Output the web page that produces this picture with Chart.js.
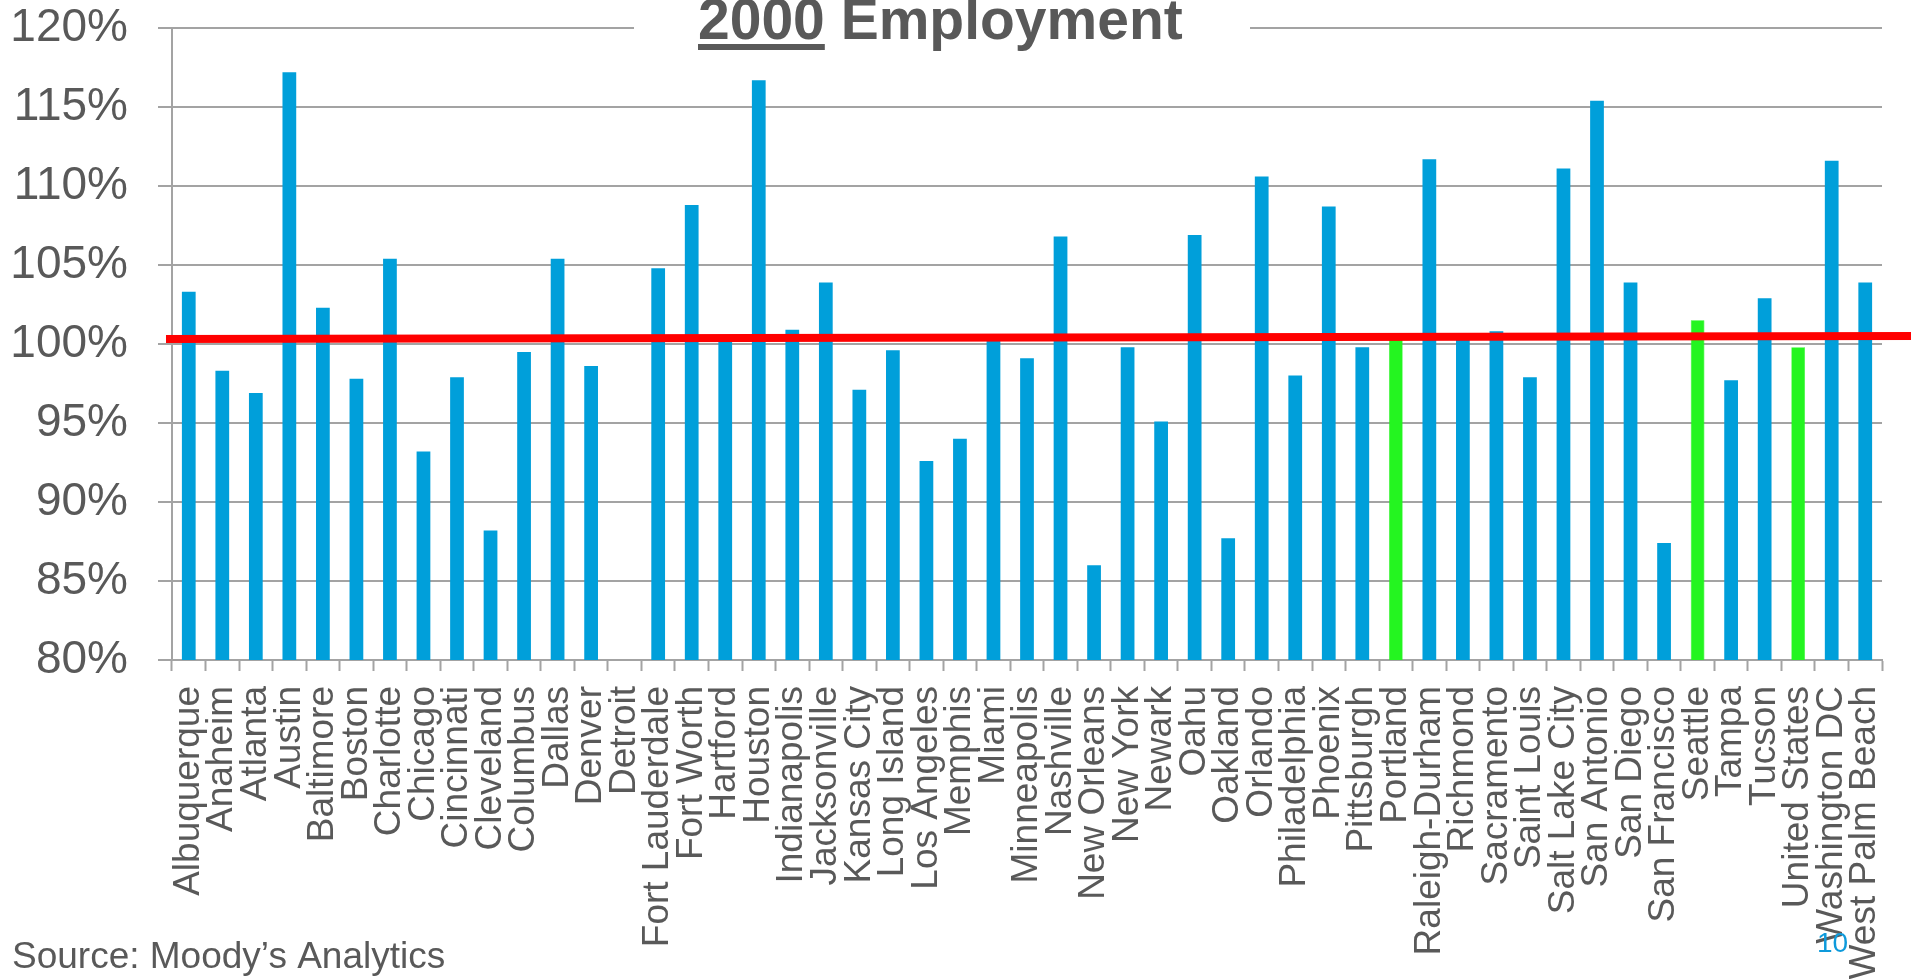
<!DOCTYPE html>
<html>
<head>
<meta charset="utf-8">
<script src="https://cdn.jsdelivr.net/npm/chart.js@4.4.1/dist/chart.umd.min.js"></script>
<style>
  html, body { margin:0; padding:0; background:#fff; }
  #wrap { width:1920px; height:979px; position:relative; }
</style>
</head>
<body>
<div id="wrap"><canvas id="chart"></canvas></div>
<script>
const cities = ['Albuquerque','Anaheim','Atlanta','Austin','Baltimore','Boston','Charlotte','Chicago','Cincinnati','Cleveland',
  'Columbus','Dallas','Denver','Detroit','Fort Lauderdale','Fort Worth','Hartford','Houston','Indianapolis','Jacksonville',
  'Kansas City','Long Island','Los Angeles','Memphis','Miami','Minneapolis','Nashville','New Orleans','New York','Newark',
  'Oahu','Oakland','Orlando','Philadelphia','Phoenix','Pittsburgh','Portland','Raleigh-Durham','Richmond','Sacramento',
  'Saint Louis','Salt Lake City','San Antonio','San Diego','San Francisco','Seattle','Tampa','Tucson','United States',
  'Washington DC','West Palm Beach'];

// employment vs 2000 level, in %
const employment = [103.3, 98.3, 96.9, 117.2, 102.3, 97.8, 105.4, 93.2, 97.9, 88.2,
  99.5, 105.4, 98.6, null, 104.8, 108.8, 100.3, 116.7, 100.9, 103.9,
  97.1, 99.6, 92.6, 94.0, 100.3, 99.1, 106.8, 86.0, 99.8, 95.1,
  106.9, 87.7, 110.6, 98.0, 108.7, 99.8, 100.3, 111.7, 100.7, 100.8,
  97.9, 111.1, 115.4, 103.9, 87.4, 101.5, 97.7, 102.9, 99.8, 111.6,
  103.9];

const highlighted = ['Portland', 'Seattle', 'United States'];
const yTicks = [80, 85, 90, 95, 100, 105, 110, 115, 120];
const redLine = [100.32, 100.51];   // left / right end of the red marker line

const BLUE = '#009FDA', GREEN = '#24F520', GRAY = '#595959', GRID = '#a3a3a3';
const FONT = "'Liberation Sans', Arial, sans-serif";

const colors = cities.map(c => highlighted.includes(c) ? GREEN : BLUE);
const borders = cities.map(c => highlighted.includes(c) ? 0.6 : 0);

const extras = {
  id: 'extras',
  afterDatasetsDraw(chart) {
    const {ctx, chartArea: a, scales: {y}} = chart;
    ctx.save();
    ctx.strokeStyle = '#FF0000';
    ctx.lineWidth = 8;
    ctx.beginPath();
    ctx.moveTo(a.left - 6, y.getPixelForValue(redLine[0]));
    ctx.lineTo(a.right + 29, y.getPixelForValue(redLine[1]));
    ctx.stroke();
    ctx.restore();
  },
  afterDraw(chart) {
    const ctx = chart.ctx;
    ctx.save();
    // gap in the top gridline behind the title
    ctx.fillStyle = '#fff';
    ctx.fillRect(634, 20, 616, 16);

    ctx.fillStyle = GRAY;
    ctx.textBaseline = 'alphabetic';
    ctx.textAlign = 'left';
    ctx.font = 'bold 57px ' + FONT;
    const x0 = 698, base = 39;
    ctx.fillText('2000', x0, base);
    const w = ctx.measureText('2000').width;
    ctx.fillRect(x0, 44, w, 6);
    ctx.fillText(' Employment', x0 + w, base);

    ctx.font = '37px ' + FONT;
    ctx.fillText('Source: Moody\u2019s Analytics', 12, 968);

    ctx.fillStyle = '#0E9ADB';
    ctx.font = '28px ' + FONT;
    ctx.fillText('10', 1817, 952);
    ctx.restore();
  }
};

new Chart(document.getElementById('chart').getContext('2d'), {
  type: 'bar',
  data: {
    labels: cities,
    datasets: [{
      data: employment,
      backgroundColor: colors,
      borderColor: colors,
      borderWidth: borders,
      borderSkipped: false,
      barPercentage: 0.41,
      categoryPercentage: 1
    }]
  },
  options: {
    responsive: true, maintainAspectRatio: false, animation: false,
    layout: { padding: { top: 28, right: 38, left: 0, bottom: 0 } },
    plugins: { legend: { display: false }, tooltip: { enabled: false }, title: { display: false } },
    scales: {
      x: {
        grid: { display: true, drawOnChartArea: false, drawTicks: true, tickLength: 11, tickColor: GRID, tickWidth: 2, offset: true },
        border: { display: true, color: GRID, width: 2 },
        ticks: { autoSkip: false, minRotation: 90, maxRotation: 90, padding: 15, color: GRAY, font: { family: FONT, size: 37 } },
        afterFit: s => { s.height = 319; s.paddingLeft = 0; s.paddingRight = 0; }
      },
      y: {
        min: 80, max: 120,
        afterBuildTicks: s => { s.ticks = yTicks.map(v => ({ value: v })); },
        grid: { color: GRID, lineWidth: 2, drawTicks: true, tickLength: 14, tickColor: GRID, tickWidth: 2 },
        border: { display: true, color: GRID, width: 2 },
        ticks: { padding: 30, color: GRAY, font: { family: FONT, size: 46 }, callback: v => v + '%' },
        afterFit: s => { s.width = 172; s.paddingTop = 0; s.paddingBottom = 0; }
      }
    }
  },
  plugins: [extras]
});
</script>
</body>
</html>
